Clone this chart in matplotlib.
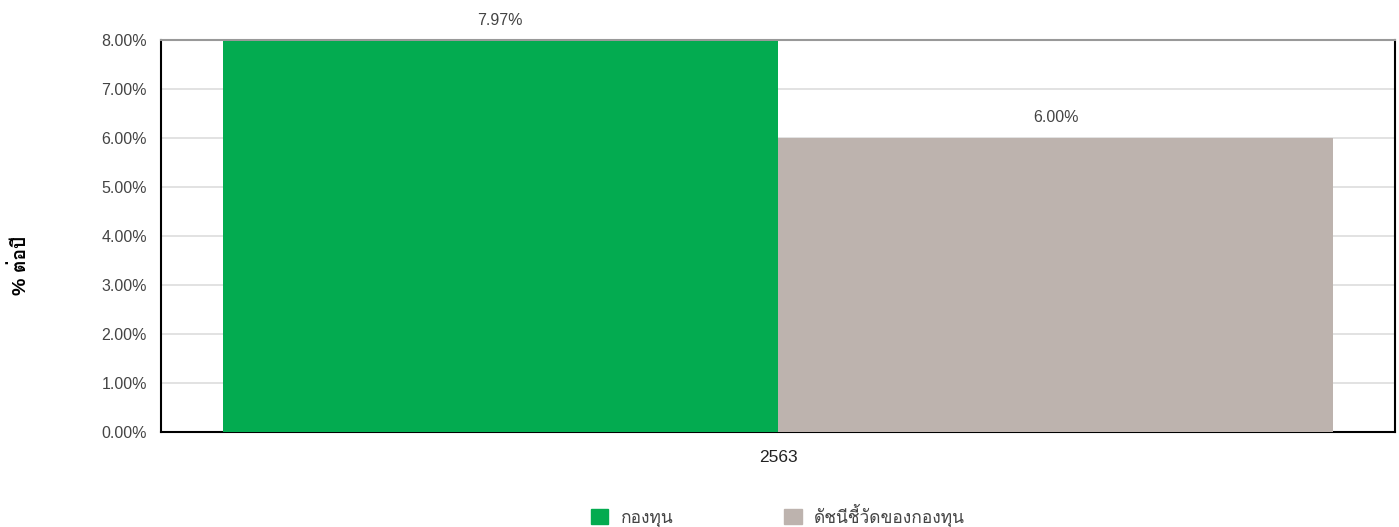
import numpy as np
import matplotlib.pyplot as plt
from matplotlib.patches import Patch

# ข้อมูล
categories = ["2563"]
series_names = ["กองทุน", "ดัชนีชี้วัดของกองทุน"]
fund = [7.97]
benchmark = [6.00]
colors = ["#03ab50", "#bdb3ae"]

plt.rcParams['font.family'] = ['Liberation Sans', 'Loma', 'Noto Sans Thai Looped', 'DejaVu Sans']

fig = plt.figure(figsize=(13.99, 5.27), dpi=100)
ax = fig.add_axes([161/1399, 1 - 432/527, 1234/1399, 392/527])

x = np.arange(len(categories))
w = 0.45
ax.bar(x - w/2, fund, w, color=colors[0], zorder=3)
ax.bar(x + w/2, benchmark, w, color=colors[1], zorder=3)

for xi, v in zip(x - w/2, fund):
    ax.text(xi, v + 0.27, f"{v:.2f}%", ha='center', va='bottom', fontsize=11.5, color='#444444')
for xi, v in zip(x + w/2, benchmark):
    ax.text(xi, v + 0.27, f"{v:.2f}%", ha='center', va='bottom', fontsize=11.5, color='#444444')

ax.set_xlim(-0.5, 0.5)
ax.set_ylim(0, 8)
ax.set_yticks(np.arange(0, 9, 1))
ax.set_yticklabels([f"{t:.2f}%" for t in np.arange(0, 9, 1)], fontsize=11.5, color='#444444')
ax.set_xticks(x)
ax.set_xticklabels(categories, fontsize=12.5, color='#222222')
ax.tick_params(axis='y', length=0, pad=10)
ax.tick_params(axis='x', length=0, pad=13)
ax.grid(axis='y', color='#dddddd', linewidth=1.2, zorder=0)

for s in ['left', 'bottom', 'right']:
    ax.spines[s].set_color('black')
    ax.spines[s].set_linewidth(1.5)
ax.spines['top'].set_color('#999999')
ax.spines['top'].set_linewidth(1.5)

fig.text(20/1399, 1 - 265/527, "% ต่อปี", rotation=90, ha='center', va='center',
         fontsize=14, fontweight='bold', color='black')

handles = [Patch(color=c) for c in colors]
fig.legend(handles, series_names, loc='lower center', bbox_to_anchor=(0.556, -0.03),
           ncol=2, frameon=False, fontsize=12.5, handlelength=1.0, handleheight=1.0,
           handletextpad=0.7, columnspacing=6.4, labelcolor='#444444')

fig.savefig("out.png", dpi=100)
